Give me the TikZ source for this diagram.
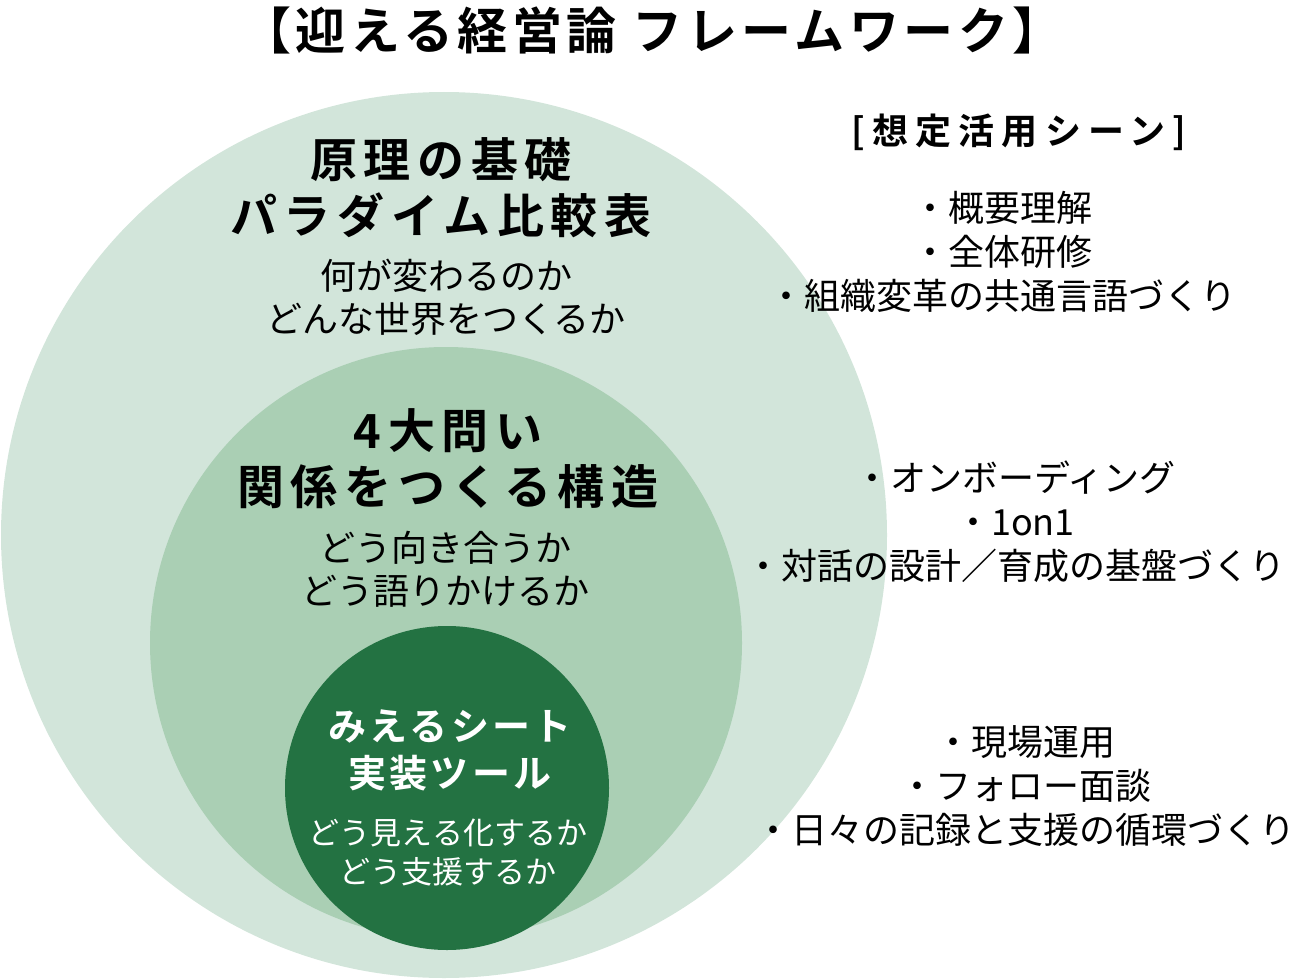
\documentclass[tikz,border=0pt]{standalone}
\usepackage{fontspec}
\usepackage{tikz}
\usetikzlibrary{positioning}
\newfontfamily\jp{Noto Sans CJK JP}
\newfontfamily\jpbold{Noto Sans CJK JP Bold}
\newfontfamily\jpwide{Noto Sans CJK JP Bold}[LetterSpace=14]
\newfontfamily\jpmid{Noto Sans CJK JP Bold}[LetterSpace=20]
\newfontfamily\jptight{Noto Sans CJK JP Bold}[LetterSpace=9]
\definecolor{ringout}{HTML}{D2E5DA}
\definecolor{ringmid}{HTML}{AACFB4}
\definecolor{ringin}{HTML}{237242}

\begin{document}
\begin{tikzpicture}[x=1pt, y=-1pt,
    ring/.style={circle, inner sep=0pt, draw=none},
    headtxt/.style={align=center, inner sep=0pt, font=\jpwide\fontsize{47}{56}\selectfont},
    subtxt/.style={align=center, inner sep=0pt, font=\jp\fontsize{36}{43}\selectfont},
    scenetxt/.style={align=center, inner sep=0pt, font=\jp\fontsize{36}{44}\selectfont}]
        \useasboundingbox (0,0) rectangle (1295,979);
        % Nested circles
        \node[ring, fill=ringout, minimum size=886pt] (outer) at (444,535) {};
        \node[ring, fill=ringmid, minimum size=592pt] (middle) at (446,643) {};
        \node[ring, fill=ringin, minimum size=324pt] (inner) at (447,788) {};

        \node[align=center, inner sep=0pt, font=\jptight\fontsize{50}{54}\selectfont] (title) at (652,30) {【迎える経営論 フレームワーク】};

        % Outer circle
        \node[headtxt] (baseHead) at (441,188) {原理の基礎\\パラダイム比較表};
        \node[subtxt] (baseSub) at (446,297) {何が変わるのか\\どんな世界をつくるか};

        % Middle circle
        \node[headtxt] (askHead) at (448,459) {4大問い\\関係をつくる構造};
        \node[subtxt] (askSub) at (445,569) {どう向き合うか\\どう語りかけるか};

        % Inner circle
        \node[align=center, inner sep=0pt, text=white, font=\jptight\fontsize{38}{47}\selectfont] (toolHead) at (450,750) {みえるシート\\実装ツール};
        \node[align=center, inner sep=0pt, text=white, font=\jp\fontsize{31}{39}\selectfont] (toolSub) at (448,852) {どう見える化するか\\どう支援するか};

        % Scenes
        \node[align=center, inner sep=0pt, font=\jpmid\fontsize{36}{44}\selectfont] (sceneHead) at (1019,132) {[想定活用シーン]};
        \node[scenetxt] (sceneBase) at (1002,252) {・概要理解\\・全体研修\\・組織変革の共通言語づくり};
        \node[scenetxt] (sceneAsk) at (1015,522) {・オンボーディング\\・1on1\\・対話の設計／育成の基盤づくり};
        \node[scenetxt] (sceneTool) at (1025,786) {・現場運用\\・フォロー面談\\・日々の記録と支援の循環づくり};
    \end{tikzpicture}
\end{document}
